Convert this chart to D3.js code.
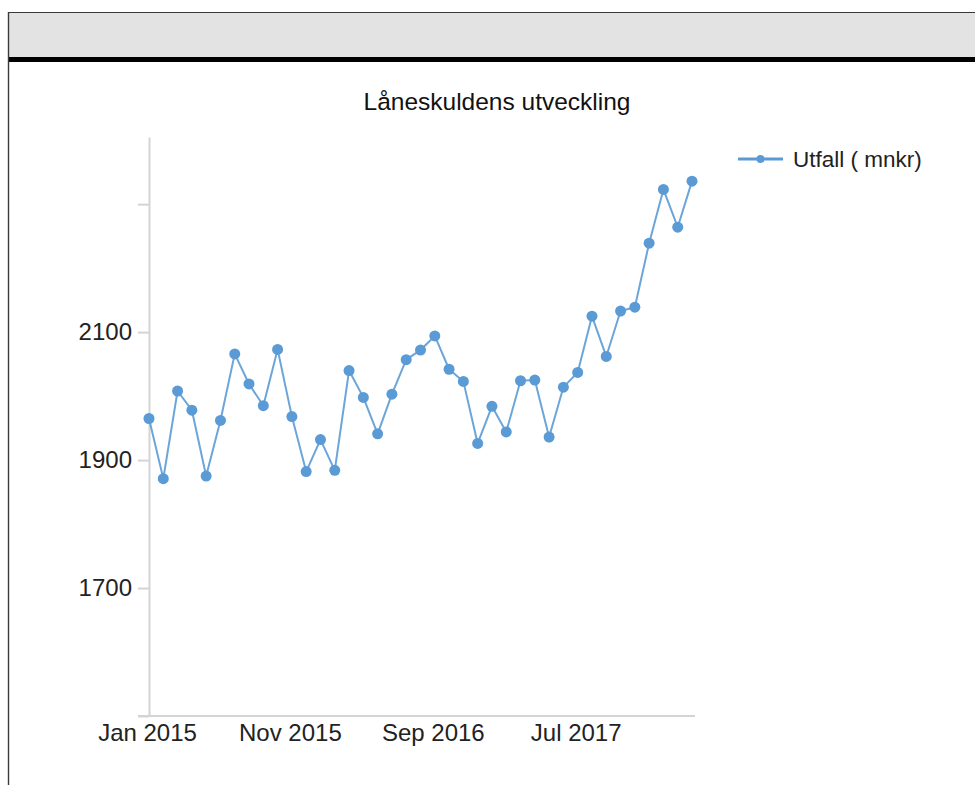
<!DOCTYPE html>
<html>
<head>
<meta charset="utf-8">
<script src="https://cdn.jsdelivr.net/npm/d3@7"></script>
<style>
  html, body { margin: 0; padding: 0; background: #fff; }
  svg { display: block; font-family: "Liberation Sans", Arial, sans-serif; }
</style>
</head>
<body>
<svg id="chart" width="975" height="785"></svg>
<script>
// ---- data ----
const months = [
  "Jan 2015","Feb 2015","Mar 2015","Apr 2015","May 2015","Jun 2015","Jul 2015","Aug 2015","Sep 2015","Oct 2015","Nov 2015","Dec 2015",
  "Jan 2016","Feb 2016","Mar 2016","Apr 2016","May 2016","Jun 2016","Jul 2016","Aug 2016","Sep 2016","Oct 2016","Nov 2016","Dec 2016",
  "Jan 2017","Feb 2017","Mar 2017","Apr 2017","May 2017","Jun 2017","Jul 2017","Aug 2017","Sep 2017","Oct 2017","Nov 2017","Dec 2017",
  "Jan 2018","Feb 2018","Mar 2018"
];
const utfall = [
  1965, 1871, 2008, 1978, 1875, 1962, 2066, 2019, 1985, 2073, 1968, 1882,
  1932, 1884, 2040, 1998, 1941, 2003, 2057, 2072, 2094, 2042, 2023, 1926,
  1984, 1944, 2024, 2025, 1936, 2014, 2037, 2125, 2062, 2133, 2139, 2239,
  2323, 2264, 2336
];
const xTickLabels = ["Jan 2015", "Nov 2015", "Sep 2016", "Jul 2017"];
const yTicks = [1500, 1700, 1900, 2100, 2300];
const yLabelled = [1700, 1900, 2100];
const seriesName = "Utfall ( mnkr)";
const chartTitle = "Låneskuldens utveckling";

// ---- layout ----
const svg = d3.select("#chart");
const W = 975, H = 785;
const color = "#5b9bd5";
const axisColor = "#d4d4d4";

// frame
svg.append("rect").attr("x", 8.5).attr("y", 12.5).attr("width", W).attr("height", 45)
  .attr("fill", "#e3e3e3").attr("stroke", "none");
svg.append("rect").attr("x", 8).attr("y", 57).attr("width", W).attr("height", 5).attr("fill", "#000");
svg.append("line").attr("x1", 8.5).attr("x2", W).attr("y1", 12.5).attr("y2", 12.5)
  .attr("stroke", "#3a3a3a").attr("stroke-width", 1.2);
svg.append("line").attr("x1", 8.5).attr("x2", 8.5).attr("y1", 12).attr("y2", H)
  .attr("stroke", "#3a3a3a").attr("stroke-width", 1.4);

// title
svg.append("text").attr("x", 497).attr("y", 110).attr("text-anchor", "middle")
  .attr("font-size", 24.5).attr("fill", "#111").text(chartTitle);

// scales
const x = d3.scalePoint().domain(months).range([149, 692]);
const y = d3.scaleLinear().domain([1500, 2405]).range([716, 137]);

// y axis
const yAxis = d3.axisLeft(y)
  .tickValues(yTicks)
  .tickFormat(d => yLabelled.includes(d) ? d3.format("d")(d) : "")
  .tickSize(11).tickSizeOuter(0).tickPadding(6);
const gy = svg.append("g").attr("transform", "translate(149,0)").call(yAxis);
gy.select(".domain").attr("stroke", axisColor).attr("stroke-width", 2);
gy.selectAll(".tick line").attr("stroke", axisColor).attr("stroke-width", 2);
gy.selectAll(".tick text").attr("font-size", 24).attr("fill", "#222")
  .attr("font-family", "'Liberation Sans', Arial, sans-serif");

// x axis
const xAxis = d3.axisBottom(x)
  .tickValues(xTickLabels)
  .tickSize(0).tickSizeOuter(0).tickPadding(8);
const gx = svg.append("g").attr("transform", "translate(0,716)").call(xAxis);
gx.select(".domain").attr("stroke", axisColor).attr("stroke-width", 2)
  .attr("d", `M${x.range()[0] - 11},0H${x.range()[1] + 3}`);
gx.selectAll(".tick text").attr("font-size", 24).attr("fill", "#222")
  .attr("font-family", "'Liberation Sans', Arial, sans-serif")
  .attr("dy", "0.71em").attr("x", -2);

// line
const line = d3.line().x((d, i) => x(months[i])).y(d => y(d));
svg.append("path").datum(utfall).attr("d", line)
  .attr("fill", "none").attr("stroke", color).attr("stroke-width", 2)
  .attr("stroke-opacity", 0.9).attr("stroke-linejoin", "round");

svg.append("g").selectAll("circle").data(utfall).join("circle")
  .attr("cx", (d, i) => x(months[i])).attr("cy", d => y(d)).attr("r", 5.5)
  .attr("fill", color);

// legend
const lg = svg.append("g").attr("transform", "translate(738,159)");
lg.append("line").attr("x1", 0).attr("x2", 45).attr("y1", 0).attr("y2", 0)
  .attr("stroke", color).attr("stroke-width", 3);
lg.append("circle").attr("cx", 22.5).attr("cy", 0).attr("r", 4).attr("fill", color);
lg.append("text").attr("x", 55).attr("y", 0).attr("dy", "0.35em")
  .attr("font-size", 22.5).attr("fill", "#222").text(seriesName);
</script>
</body>
</html>
